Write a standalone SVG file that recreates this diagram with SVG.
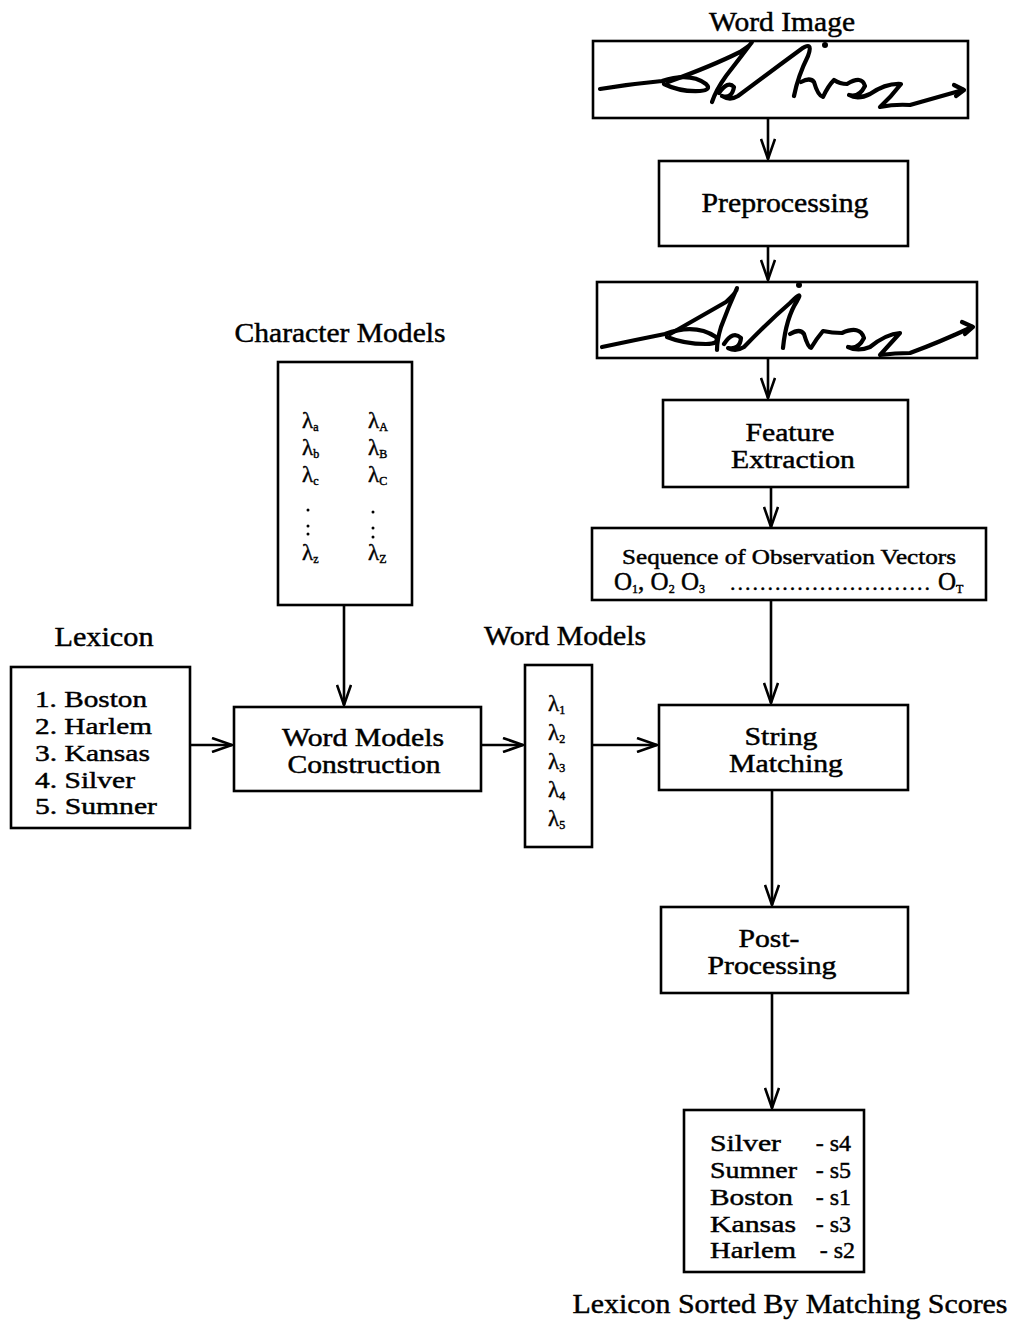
<svg xmlns="http://www.w3.org/2000/svg" width="1013" height="1321" viewBox="0 0 1013 1321">
  <defs>
    <style>
      .box { fill: #fff; stroke: #000; stroke-width: 2.6; }
      .lbl { font-family: "Liberation Serif", "Times New Roman", serif; fill: #000; stroke: #000; stroke-width: 0.45; }
      .t26 { font-size: 27px; }
      .t25 { font-size: 25px; }
      .t24 { font-size: 24px; }
      .t20 { font-size: 21px; }
      .lam { font-size: 23px; }
      .sub { font-size: 12px; }
      .wire { fill: none; stroke: #000; stroke-width: 2.6; }
      .ink { fill: none; stroke: #000; stroke-width: 4.2; stroke-linecap: round; stroke-linejoin: round; }
    </style>
    <marker id="arrow" viewBox="0 0 22 16" refX="21" refY="8" markerWidth="22" markerHeight="16" markerUnits="userSpaceOnUse" orient="auto">
      <path d="M1,1 L21,8 L1,15" fill="none" stroke="#000" stroke-width="2.6"/>
    </marker>
  </defs>
  <rect width="1013" height="1321" fill="#fff"/>

  <!-- connectors -->
  <g id="connectors" class="wire" marker-end="url(#arrow)">
    <line x1="768" y1="118" x2="768" y2="159"/>
    <line x1="768" y1="246" x2="768" y2="280"/>
    <line x1="768" y1="358" x2="768" y2="398"/>
    <line x1="771" y1="487" x2="771" y2="527"/>
    <line x1="771" y1="600" x2="771" y2="703"/>
    <line x1="772" y1="790" x2="772" y2="905"/>
    <line x1="772" y1="993" x2="772" y2="1108"/>
    <line x1="344" y1="604" x2="344" y2="705"/>
    <line x1="185" y1="745" x2="232" y2="745"/>
    <line x1="481" y1="745" x2="523" y2="745"/>
    <line x1="592" y1="745" x2="657" y2="745"/>
  </g>

  <!-- input word image: handwritten "Silver" -->
  <g id="word-image">
    <text class="lbl t26" x="782" y="31" text-anchor="middle" textLength="146" lengthAdjust="spacingAndGlyphs">Word Image</text>
    <rect class="box" x="593" y="41" width="375" height="77"/>
    <path class="ink" d="M600,89 Q630,84 662,81 Q690,72 706,84 Q712,90 700,91 Q680,92 664,84"/>
    <path class="ink" d="M668,82 Q712,66 740,52 Q752,44 752,42 Q740,58 726,76 Q716,90 712,102"/>
    <path class="ink" d="M719,93 Q728,80 734,87 Q732,99 722,96 Q730,101 738,96 Q770,72 800,50 Q814,40 808,56 Q798,76 794,96"/>
    <circle cx="825" cy="45" r="3" fill="#000"/>
    <path class="ink" d="M801,82 Q810,77 814,82 Q818,96 823,97 Q828,86 834,80 Q840,84 847,84 Q862,75 865,86 Q859,98 849,95 Q858,100 870,94 Q886,83 901,84 Q891,97 880,107 Q895,104 910,105 Q935,98 963,90"/>
    <path class="ink" d="M954,85 L964,90 L956,96" stroke-width="2.8"/>
  </g>

  <g id="preprocessing">
    <rect class="box" x="659" y="161" width="249" height="85"/>
    <text class="lbl t26" x="785" y="212" text-anchor="middle" textLength="167" lengthAdjust="spacingAndGlyphs">Preprocessing</text>
  </g>

  <!-- preprocessed word image -->
  <g id="clean-image">
    <rect class="box" x="597" y="282" width="380" height="76"/>
    <path class="ink" d="M602,347 Q635,340 665,334 Q695,323 716,337 Q720,344 706,344 Q684,344 667,337"/>
    <path class="ink" d="M670,334 Q705,314 726,302 Q737,292 737,288 Q728,308 721,327 Q717,340 717,350"/>
    <path class="ink" d="M724,344 Q733,330 741,338 Q740,350 728,348 Q736,352 744,347 Q768,322 790,303 Q804,289 797,301 Q786,318 783,348"/>
    <circle cx="799" cy="285" r="3" fill="#000"/>
    <path class="ink" d="M790,334 Q800,328 804,334 Q808,348 811,348 Q817,338 823,331 Q832,333 842,333 Q860,325 864,338 Q858,350 848,347 Q858,352 870,347 Q886,334 900,333 Q890,344 880,355 Q895,353 910,353 Q940,342 972,327"/>
    <path class="ink" d="M962,322 L973,327 L965,334" stroke-width="2.8"/>
  </g>

  <g id="feature-extraction">
    <rect class="box" x="663" y="400" width="245" height="87"/>
    <text class="lbl t25" x="790" y="441" text-anchor="middle" textLength="89" lengthAdjust="spacingAndGlyphs">Feature</text>
    <text class="lbl t25" x="793" y="468" text-anchor="middle" textLength="124" lengthAdjust="spacingAndGlyphs">Extraction</text>
  </g>

  <g id="observation-vectors">
    <rect class="box" x="592" y="528" width="394" height="72"/>
    <text class="lbl t20" x="789" y="564" text-anchor="middle" textLength="334" lengthAdjust="spacingAndGlyphs">Sequence of Observation Vectors</text>
    <text class="lbl" x="614" y="590" font-size="25">O<tspan class="sub" dy="3">1</tspan><tspan dy="-3">, O</tspan><tspan class="sub" dy="3">2</tspan><tspan dy="-3"> O</tspan><tspan class="sub" dy="3">3</tspan></text>
    <text class="lbl" x="730" y="590" font-size="22" textLength="200" lengthAdjust="spacing">...........................</text>
    <text class="lbl" x="938" y="590" font-size="25">O<tspan class="sub" dy="3">T</tspan></text>
  </g>

  <g id="character-models">
    <text class="lbl t26" x="340" y="342" text-anchor="middle" textLength="211" lengthAdjust="spacingAndGlyphs">Character Models</text>
    <rect class="box" x="278" y="362" width="134" height="243"/>
    <g class="lbl lam">
      <text x="302" y="428">λ<tspan class="sub" dy="3">a</tspan></text>
      <text x="302" y="455">λ<tspan class="sub" dy="3">b</tspan></text>
      <text x="302" y="482">λ<tspan class="sub" dy="3">c</tspan></text>
      <text x="302" y="560">λ<tspan class="sub" dy="3">z</tspan></text>
      <text x="368" y="428">λ<tspan class="sub" dy="3">A</tspan></text>
      <text x="368" y="455">λ<tspan class="sub" dy="3">B</tspan></text>
      <text x="368" y="482">λ<tspan class="sub" dy="3">C</tspan></text>
      <text x="368" y="560">λ<tspan class="sub" dy="3">Z</tspan></text>
    </g>
    <g fill="#000">
      <circle cx="308" cy="510" r="1.5"/>
      <circle cx="308" cy="526" r="1.5"/>
      <circle cx="308" cy="534" r="1.5"/>
      <circle cx="373" cy="512" r="1.5"/>
      <circle cx="373" cy="528" r="1.5"/>
      <circle cx="373" cy="537" r="1.5"/>
    </g>
  </g>

  <g id="lexicon">
    <text class="lbl t26" x="104" y="646" text-anchor="middle" textLength="99" lengthAdjust="spacingAndGlyphs">Lexicon</text>
    <rect class="box" x="11" y="667" width="179" height="161"/>
    <g class="lbl t24">
      <text x="35" y="707" textLength="112" lengthAdjust="spacingAndGlyphs">1. Boston</text>
      <text x="35" y="734" textLength="117" lengthAdjust="spacingAndGlyphs">2. Harlem</text>
      <text x="35" y="761" textLength="115" lengthAdjust="spacingAndGlyphs">3. Kansas</text>
      <text x="35" y="788" textLength="100" lengthAdjust="spacingAndGlyphs">4. Silver</text>
      <text x="35" y="814" textLength="122" lengthAdjust="spacingAndGlyphs">5. Sumner</text>
    </g>
  </g>

  <g id="word-models-construction">
    <rect class="box" x="234" y="707" width="247" height="84"/>
    <text class="lbl t25" x="363" y="746" text-anchor="middle" textLength="162" lengthAdjust="spacingAndGlyphs">Word Models</text>
    <text class="lbl t25" x="364" y="773" text-anchor="middle" textLength="153" lengthAdjust="spacingAndGlyphs">Construction</text>
  </g>

  <g id="word-models">
    <text class="lbl t26" x="565" y="645" text-anchor="middle" textLength="162" lengthAdjust="spacingAndGlyphs">Word Models</text>
    <rect class="box" x="525" y="665" width="67" height="182"/>
    <g class="lbl lam">
      <text x="548" y="711">λ<tspan class="sub" dy="3">1</tspan></text>
      <text x="548" y="740">λ<tspan class="sub" dy="3">2</tspan></text>
      <text x="548" y="769">λ<tspan class="sub" dy="3">3</tspan></text>
      <text x="548" y="797">λ<tspan class="sub" dy="3">4</tspan></text>
      <text x="548" y="826">λ<tspan class="sub" dy="3">5</tspan></text>
    </g>
  </g>

  <g id="string-matching">
    <rect class="box" x="659" y="705" width="249" height="85"/>
    <text class="lbl t25" x="781" y="745" text-anchor="middle" textLength="73" lengthAdjust="spacingAndGlyphs">String</text>
    <text class="lbl t25" x="786" y="772" text-anchor="middle" textLength="114" lengthAdjust="spacingAndGlyphs">Matching</text>
  </g>

  <g id="post-processing">
    <rect class="box" x="661" y="907" width="247" height="86"/>
    <text class="lbl t25" x="769" y="947" text-anchor="middle" textLength="61" lengthAdjust="spacingAndGlyphs">Post-</text>
    <text class="lbl t25" x="772" y="974" text-anchor="middle" textLength="129" lengthAdjust="spacingAndGlyphs">Processing</text>
  </g>

  <g id="sorted-lexicon">
    <rect class="box" x="684" y="1110" width="180" height="162"/>
    <g class="lbl t24">
      <text x="710" y="1151" textLength="71" lengthAdjust="spacingAndGlyphs">Silver</text>
      <text x="710" y="1178" textLength="87" lengthAdjust="spacingAndGlyphs">Sumner</text>
      <text x="710" y="1205" textLength="83" lengthAdjust="spacingAndGlyphs">Boston</text>
      <text x="710" y="1232" textLength="86" lengthAdjust="spacingAndGlyphs">Kansas</text>
      <text x="710" y="1258" textLength="86" lengthAdjust="spacingAndGlyphs">Harlem</text>
      <text x="851" y="1151" text-anchor="end">- s4</text>
      <text x="851" y="1178" text-anchor="end">- s5</text>
      <text x="851" y="1205" text-anchor="end">- s1</text>
      <text x="851" y="1232" text-anchor="end">- s3</text>
      <text x="855" y="1258" text-anchor="end">- s2</text>
    </g>
    <text class="lbl t26" x="790" y="1313" text-anchor="middle" textLength="435" lengthAdjust="spacingAndGlyphs">Lexicon Sorted By Matching Scores</text>
  </g>
</svg>
